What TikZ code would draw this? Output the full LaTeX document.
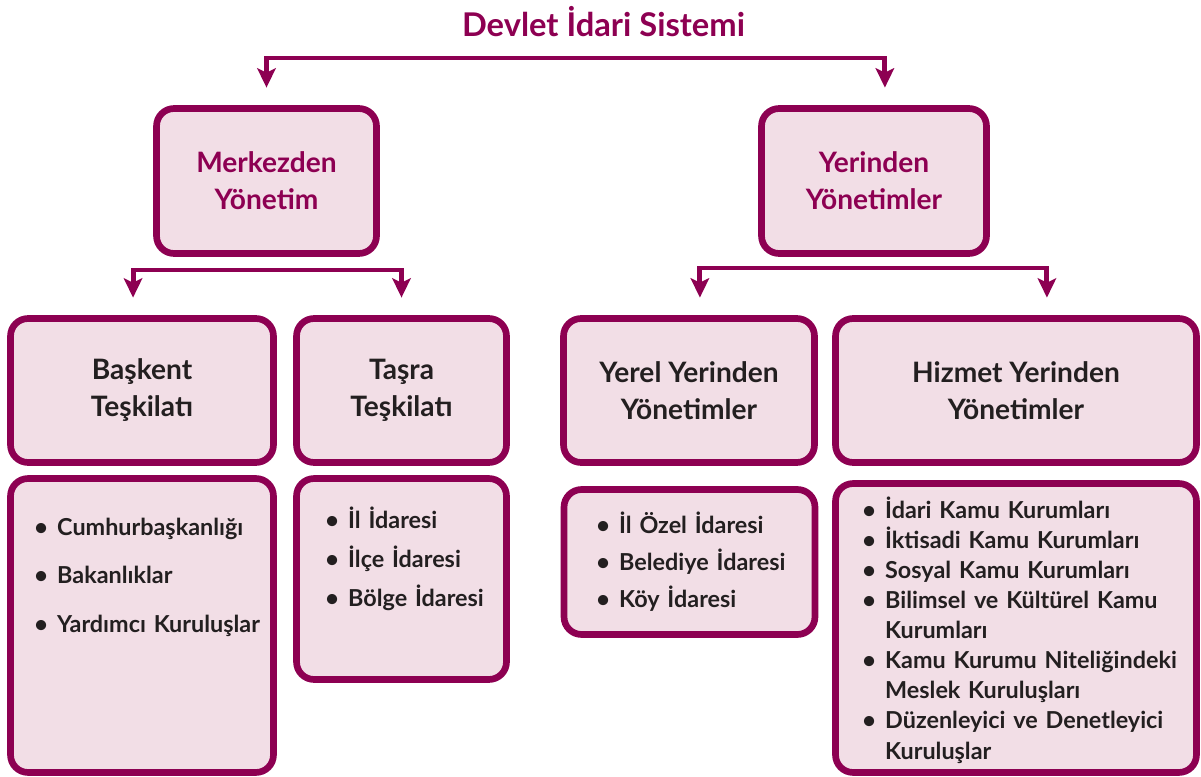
\documentclass[tikz,border=0pt]{standalone}
\usepackage{fontspec}
\setmainfont{Lato}
\usetikzlibrary{arrows.meta,positioning}
\definecolor{plum}{RGB}{141,0,82}
\definecolor{plumfill}{RGB}{242,222,230}
\definecolor{ink}{RGB}{35,31,32}
\newcommand{\itm}[1]{\hangindent=13pt\hangafter=1\leavevmode\makebox[13pt][l]{\textbullet}#1\par}
\tikzset{
  box/.style={draw=plum,fill=plumfill,line width=3.8pt,rounded corners=10pt,
    minimum height=2.88cm,inner sep=0pt,align=center,text=ink,
    font=\fontsize{16}{21}\selectfont\bfseries},
  topbox/.style={box,minimum height=2.9cm,text=plum},
  listbox/.style={box},
  listtext/.style={anchor=base west,inner sep=0pt,align=left,text=ink}
  ,
  conn/.style={draw=plum,line width=2.8pt,
    -{Stealth[length=11pt,width=10.5pt,inset=2.5pt]},shorten >=10pt}
}
\begin{document}
\begin{tikzpicture}[x=0.02cm,y=-0.02cm]
\useasboundingbox (0,0) rectangle (1201,777);

\node[text=plum,font=\fontsize{18.6}{22}\selectfont\bfseries] (title) at (603.5,22) {Devlet İdari Sistemi};

% upper level
\node[topbox,minimum width=4.4cm] (merk) at (266.5,181) {Merkezden\\Yönetim};
\node[topbox,minimum width=4.5cm] (yer) at (874,181) {Yerinden\\Yönetimler};

% second level
\node[box,minimum width=5.26cm] (bask) at (142,390.5) {Başkent\\Teşkilatı};
\node[box,minimum width=4.2cm] (tasra) at (401.5,390.5) {Taşra\\Teşkilatı};
\node[box,minimum width=5.02cm] (yerel) at (689,390.5) {Yerel Yerinden\\Yönetimler};
\node[box,minimum width=7.22cm] (hiz) at (1016,390.5) {Hizmet Yerinden\\Yönetimler};

% list boxes
\node[listbox,minimum width=5.26cm,minimum height=5.88cm] (baskl) at (142,625.5) {};
\node[listbox,minimum width=4.2cm,minimum height=4.02cm] (tasral) at (401.5,579) {};
\node[listbox,minimum width=5.02cm,minimum height=2.9cm] (yerell) at (689.5,562) {};
\node[listbox,minimum width=7.22cm,minimum height=5.78cm] (hizl) at (1016,628) {};

\node[listtext,text width=4.6cm,font=\fontsize{13.3}{27.8}\selectfont\bfseries] (baskt) at (34,535)
  {\itm{Cumhurbaşkanlığı}\itm{Bakanlıklar}\itm{Yardımcı Kuruluşlar}};
\node[listtext,text width=3.6cm,font=\fontsize{13.3}{22.4}\selectfont\bfseries] (tasrat) at (325,528)
  {\itm{İl İdaresi}\itm{İlçe İdaresi}\itm{Bölge İdaresi}};
\node[listtext,text width=4.4cm,font=\fontsize{13.3}{21.3}\selectfont\bfseries] (yerelt) at (596,533)
  {\itm{İl Özel İdaresi}\itm{Belediye İdaresi}\itm{Köy İdaresi}};
\node[listtext,text width=6.8cm,font=\fontsize{13.3}{17.15}\selectfont\bfseries] (hizt) at (862,518)
  {\itm{İdari Kamu Kurumları}\itm{İktisadi Kamu Kurumları}\itm{Sosyal Kamu Kurumları}%
   \itm{Bilimsel ve Kültürel Kamu\newline Kurumları}\itm{Kamu Kurumu Niteliğindeki\newline Meslek Kuruluşları}%
   \itm{Düzenleyici ve Denetleyici\newline Kuruluşlar}};

% connectors
\coordinate (tj) at (576,58);
\coordinate (mj) at (266.5,270);
\coordinate (yj) at (874,268);
\draw[conn] (tj) -| (merk.north);
\draw[conn] (tj) -| ([xshift=6.2pt]yer.north);
\draw[conn] (mj) -| ([xshift=-5.1pt]bask.north);
\draw[conn] (mj) -| (tasra.north);
\draw[conn] (yj) -| ([xshift=6.2pt]yerel.north);
\draw[conn] (yj) -| ([xshift=17.6pt]hiz.north);
\end{tikzpicture}
\end{document}
